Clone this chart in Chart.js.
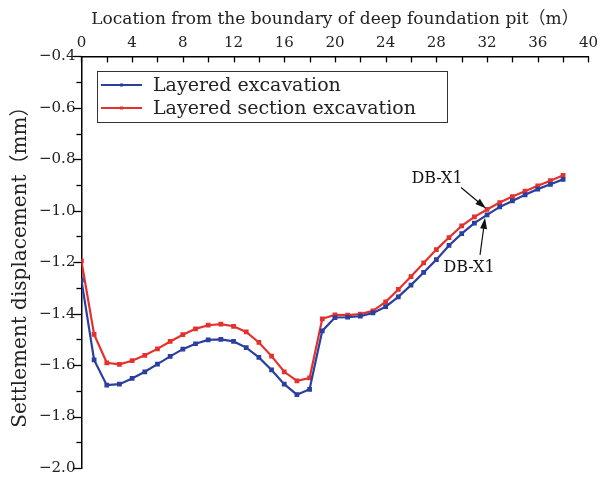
<!DOCTYPE html>
<html>
<head>
<meta charset="utf-8">
<script src="https://cdn.jsdelivr.net/npm/chart.js@4"></script>
<style>
  body { margin: 0; background: #fff; }
  #wrap { width: 602px; height: 480px; }
</style>
</head>
<body>
<div id="wrap"><canvas id="settle"></canvas></div>
<script>
// distance from pit boundary (m)
const locations = [0,1,2,3,4,5,6,7,8,9,10,11,12,13,14,15,16,17,18,19,20,21,22,23,24,25,26,27,28,29,30,31,32,33,34,35,36,37,38]
const layeredExc = [-1.27,-1.58,-1.678,-1.674,-1.652,-1.626,-1.596,-1.566,-1.538,-1.517,-1.502,-1.500,-1.508,-1.532,-1.570,-1.619,-1.674,-1.715,-1.694,-1.467,-1.415,-1.414,-1.410,-1.397,-1.373,-1.335,-1.289,-1.240,-1.190,-1.135,-1.089,-1.048,-1.016,-0.985,-0.962,-0.938,-0.916,-0.897,-0.878]
const layeredSectionExc = [-1.195,-1.481,-1.591,-1.597,-1.583,-1.562,-1.537,-1.508,-1.482,-1.459,-1.445,-1.441,-1.449,-1.471,-1.512,-1.565,-1.626,-1.661,-1.650,-1.420,-1.405,-1.406,-1.402,-1.389,-1.354,-1.306,-1.256,-1.203,-1.151,-1.104,-1.059,-1.024,-0.995,-0.968,-0.945,-0.924,-0.903,-0.883,-0.862]
const seriesNames = ['Layered excavation', 'Layered section excavation']
const xTicks = [0,4,8,12,16,20,24,28,32,36,40]
const yTicks = [-0.4,-0.6,-0.8,-1.0,-1.2,-1.4,-1.6,-1.8,-2.0]

const blue = '#2b3f9e'
const red = '#e5312d'
const txtFont = '"DejaVu Serif", "Noto Sans CJK SC", serif'

// ticks, legend box and DB-X1 callouts
const extras = {
    id: 'extras',
    afterDraw(chart) {
        const c = chart.ctx
        const xs = chart.scales.x, ys = chart.scales.y
        const ca = chart.chartArea
        c.save()
        c.strokeStyle = '#000'
        c.lineWidth = 1.3
        // top axis ticks, pointing inward
        for (let v = 0; v <= 40; v += 2) {
            const px = Math.round(xs.getPixelForValue(v)) + 0.5
            c.beginPath(); c.moveTo(px, ca.top); c.lineTo(px, ca.top + 6); c.stroke()
        }
        // left axis ticks, outward
        for (let i = 0; i <= 16; i++) {
            const v = -0.4 - i * 0.1
            const py = Math.round(ys.getPixelForValue(v)) + 0.5
            const len = i % 2 == 0 ? 8 : 5
            c.beginPath(); c.moveTo(ca.left, py); c.lineTo(ca.left - len, py); c.stroke()
        }

        // legend
        const lx = 97, ly = 71, lw = 350, lh = 51
        c.lineWidth = 1
        c.strokeStyle = '#333'
        c.strokeRect(lx + 0.5, ly + 0.5, lw, lh)
        c.font = '19px ' + txtFont
        c.textBaseline = 'middle'
        c.fillStyle = '#222'
        const cols = [blue, red]
        for (let i = 0; i < 2; i++) {
            const yy = ly + 14 + i * 23
            c.strokeStyle = cols[i]
            c.lineWidth = 2.2
            c.beginPath(); c.moveTo(lx + 4, yy); c.lineTo(lx + 45, yy); c.stroke()
            c.fillStyle = cols[i]
            c.fillRect(lx + 23, yy - 1.5, 3, 3)
            c.fillStyle = '#222'
            c.fillText(seriesNames[i], lx + 56, yy + 1)
        }

        // callouts at x = 32
        const ax = xs.getPixelForValue(32)
        const rY = ys.getPixelForValue(layeredSectionExc[32])
        const bY = ys.getPixelForValue(layeredExc[32])
        c.fillStyle = '#111'
        c.strokeStyle = '#111'
        c.font = '16px ' + txtFont
        c.textAlign = 'center'
        c.fillText('DB-X1', ax - 50, rY - 31)
        c.fillText('DB-X1', ax - 18, bY + 53)
        arrow(c, ax - 26, rY - 22, ax - 1, rY - 1)
        arrow(c, ax - 7, bY + 40, ax - 2, bY + 3)
        c.restore()
    }
}

function arrow(c, x1, y1, x2, y2) {
    const a = Math.atan2(y2 - y1, x2 - x1)
    c.lineWidth = 1.2
    c.beginPath(); c.moveTo(x1, y1); c.lineTo(x2 - 8 * Math.cos(a), y2 - 8 * Math.sin(a)); c.stroke()
    c.beginPath()
    c.moveTo(x2, y2)
    c.lineTo(x2 - 11 * Math.cos(a) + 3.5 * Math.sin(a), y2 - 11 * Math.sin(a) - 3.5 * Math.cos(a))
    c.lineTo(x2 - 11 * Math.cos(a) - 3.5 * Math.sin(a), y2 - 11 * Math.sin(a) + 3.5 * Math.cos(a))
    c.closePath(); c.fill()
}

const ctx = document.getElementById('settle')
const config = {
    type: 'line',
    data: {
        datasets: [
            {
                label: seriesNames[0],
                data: locations.map((x, i) => ({ x: x, y: layeredExc[i] })),
                borderColor: blue,
                backgroundColor: blue,
                borderWidth: 2.2,
                pointStyle: 'rect',
                pointRadius: 1.8,
                tension: 0
            },
            {
                label: seriesNames[1],
                data: locations.map((x, i) => ({ x: x, y: layeredSectionExc[i] })),
                borderColor: red,
                backgroundColor: red,
                borderWidth: 2.2,
                pointStyle: 'rect',
                pointRadius: 1.8,
                tension: 0
            }
        ]
    },
    options: {
        responsive: true,
        maintainAspectRatio: false,
        animation: false,
        layout: { padding: { top: 9, right: 4, bottom: 0, left: 9 } },
        plugins: {
            legend: { display: false },
            tooltip: { enabled: false }
        },
        scales: {
            x: {
                type: 'linear',
                position: 'top',
                min: 0,
                max: 40,
                afterBuildTicks: s => { s.ticks = xTicks.map(v => ({ value: v })) },
                grid: { display: false, drawTicks: false },
                border: { display: true, color: '#000', width: 1.5 },
                ticks: { color: '#222', font: { family: txtFont, size: 15 }, padding: 4, maxRotation: 0 },
                title: {
                    display: true,
                    text: 'Location from the boundary of deep foundation pit（m）',
                    color: '#222',
                    font: { family: txtFont, size: 17 },
                    padding: { top: 0, bottom: 1 }
                }
            },
            y: {
                type: 'linear',
                min: -2.0,
                max: -0.4,
                afterBuildTicks: s => { s.ticks = yTicks.map(v => ({ value: v })) },
                afterFit: s => { s.paddingBottom = 12 },
                grid: { display: false, drawTicks: false },
                border: { display: true, color: '#000', width: 1.5 },
                ticks: {
                    color: '#222',
                    font: { family: txtFont, size: 15, lineHeight: 1 },
                    padding: 6,
                    callback: v => (v < 0 ? '−' : '') + Math.abs(v).toFixed(1)
                },
                title: {
                    display: true,
                    text: 'Settlement displacement（mm）',
                    color: '#222',
                    font: { family: txtFont, size: 20 },
                    padding: { top: 0, bottom: 0 }
                }
            }
        }
    },
    plugins: [extras]
}
var settleChart = new Chart(ctx, config)
</script>
</body>
</html>
